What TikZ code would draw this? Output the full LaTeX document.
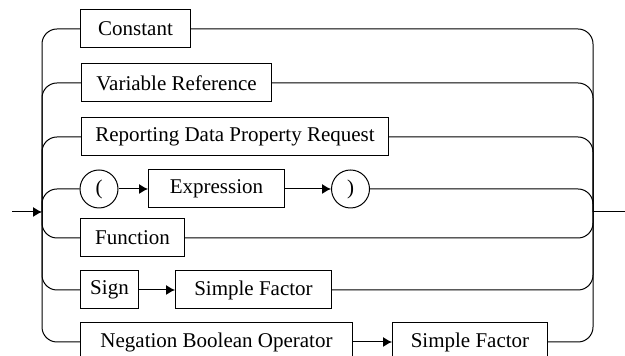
\documentclass[tikz,border=0pt]{standalone}
\usepackage{fontspec}
\setmainfont{Liberation Serif}
\usetikzlibrary{arrows.meta, positioning, calc}
\newcommand{\railbox}[4]{%
  \node[draw, line width=0.5pt, anchor=west, minimum width=#3pt,
        minimum height=19pt, inner sep=0pt] (#1) at (#2) {#4};}
\tikzset{
  rail/.style={line width=0.5pt, rounded corners=7.5pt},
  railarrow/.style={line width=0.5pt, -{Latex[length=4.5pt, width=5pt]}},
  railtoken/.style={draw, circle, line width=0.5pt, minimum size=19pt, inner sep=0pt}
}

\begin{document}
\begin{tikzpicture}[x=0.5pt, y=-0.5pt, font=\fontsize{10.5}{12}\selectfont]
      \useasboundingbox (0,0) rectangle (625,356);
      \coordinate (start) at (12,212);
      \coordinate (in) at (42,212);
      \coordinate (out) at (593,212);
      \coordinate (end) at (625,212);
      \railbox{const}{80,29}{55}{Constant}
      \railbox{varref}{81,83}{95}{Variable Reference}
      \railbox{report}{81,137}{153.5}{Reporting Data Property Request}
      \node[railtoken] (lpar) at (99,189) {(};
      \railbox{expr}{148,189}{68}{Expression}
      \node[railtoken] (rpar) at (350.5,189) {)};
      \railbox{func}{80,238}{52}{Function}
      \railbox{sign}{80,290}{29}{Sign}
      \railbox{sfa}{175,290}{78}{Simple Factor}
      \railbox{neg}{80,342}{136}{Negation Boolean Operator}
      \railbox{sfb}{392,342}{77.5}{Simple Factor}
      % entry and exit
      \draw[railarrow] (start) -- (in);
      \draw[line width=0.5pt] (out) -- (end);
      % branches in
      \foreach \n in {const, varref, report, lpar, func, sign, neg}
        \draw[rail] (in) |- (\n.west);
      % branches out
      \foreach \n in {const, varref, report, rpar, func, sfa, sfb}
        \draw[rail] (\n.east) -| (out);
      % sequences
      \draw[railarrow] (lpar) -- (expr);
      \draw[railarrow] (expr) -- (rpar);
      \draw[railarrow] (sign) -- (sfa);
      \draw[railarrow] (neg) -- (sfb);
    \end{tikzpicture}
\end{document}
